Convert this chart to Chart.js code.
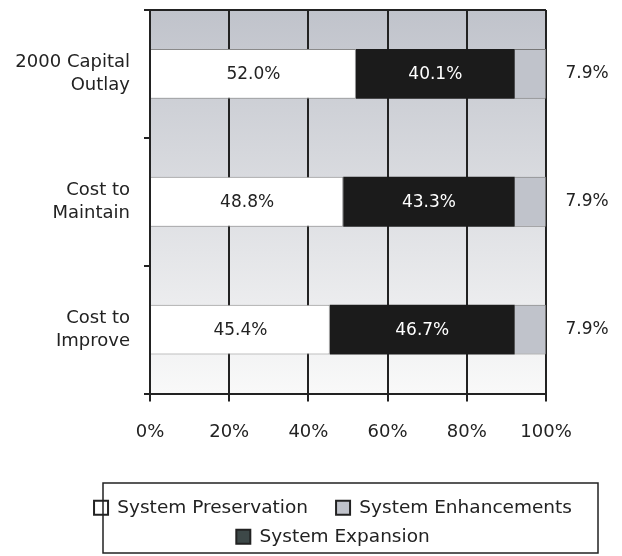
<!DOCTYPE html>
<html lang="en">
<head>
  <meta charset="UTF-8">
  <title>Capital Outlay Shares</title>
  <style>
    body {
      margin: 0;
      background: #fff;
    }
    #wrap {
      width: 622px;
      height: 556px;
    }
  </style>
</head>
<body>
  <div id="wrap"><canvas id="chart" width="622" height="556"></canvas></div>

  <script src="https://cdn.jsdelivr.net/npm/chart.js"></script>
  <script>
    const categories = [['2000 Capital', 'Outlay'], ['Cost to', 'Maintain'], ['Cost to', 'Improve']];
    const preservation = [52.0, 48.8, 45.4];
    const expansion = [40.1, 43.3, 46.7];
    const enhancements = [7.9, 7.9, 7.9];
    const xTicks = [0, 20, 40, 60, 80, 100];

    const FONT = '"DejaVu Sans", Verdana, sans-serif';
    const INK = '#222';

    // gradient fill behind the plot + the top frame line
    const plotFrame = {
      id: 'plotFrame',
      beforeDraw(chart) {
        const { ctx, chartArea: a } = chart;
        const g = ctx.createLinearGradient(0, a.top, 0, a.bottom);
        g.addColorStop(0, '#c0c3cb');
        g.addColorStop(1, '#f9f9f9');
        ctx.save();
        ctx.fillStyle = g;
        ctx.fillRect(a.left, a.top, a.right - a.left, a.bottom - a.top);
        ctx.restore();
      },
      beforeDatasetsDraw(chart) {
        const { ctx, chartArea: a } = chart;
        ctx.save();
        ctx.strokeStyle = INK;
        ctx.lineWidth = 2;
        ctx.beginPath();
        ctx.moveTo(a.left, a.top);
        ctx.lineTo(a.right, a.top);
        ctx.stroke();
        ctx.restore();
      }
    };

    // percent labels: centred in the segment, last series outside on the right
    const valueLabels = {
      id: 'valueLabels',
      afterDatasetsDraw(chart) {
        const { ctx, chartArea: a } = chart;
        ctx.save();
        ctx.font = '17px ' + FONT;
        ctx.textAlign = 'center';
        ctx.textBaseline = 'middle';
        chart.data.datasets.forEach((ds, i) => {
          chart.getDatasetMeta(i).data.forEach((bar, j) => {
            const txt = ds.data[j].toFixed(1) + '%';
            if (ds.outside) {
              ctx.fillStyle = INK;
              ctx.fillText(txt, a.right + 41, bar.y);
            } else {
              ctx.fillStyle = ds.labelColor;
              ctx.fillText(txt, (bar.x + bar.base) / 2, bar.y + 1);
            }
          });
        });
        ctx.restore();
      }
    };

    // legend sits a bit right of the plot centre, inside a framed box
    const legendBox = {
      id: 'legendBox',
      afterLayout(chart) {
        chart.legend.left = 44;
        chart.legend.right = 622;
      },
      afterDraw(chart) {
        const lg = chart.legend;
        if (!lg || !lg.legendHitBoxes.length) return;
        const ctx = chart.ctx;
        ctx.save();
        ctx.strokeStyle = INK;
        ctx.lineWidth = 1.5;
        ctx.strokeRect(103, lg.top - 5, 495, lg.bottom - lg.top + 2);
        ctx.restore();
      }
    };

    const swatch = ['#ffffff', '#3d4848', '#c0c3cb'];

    new Chart(document.getElementById('chart'), {
      type: 'bar',
      data: {
        labels: categories,
        datasets: [
          { label: 'System Preservation', data: preservation, backgroundColor: '#ffffff',
            borderColor: '#8a8a8a', borderWidth: 1, labelColor: INK },
          { label: 'System Expansion', data: expansion, backgroundColor: '#1b1b1b',
            borderWidth: 0, labelColor: '#ffffff' },
          { label: 'System Enhancements', data: enhancements, backgroundColor: '#c0c3cb',
            borderColor: '#777', borderWidth: 1, outside: true }
        ]
      },
      options: {
        indexAxis: 'y',
        responsive: false,
        animation: false,
        devicePixelRatio: 1,
        categoryPercentage: 1,
        barPercentage: 0.39,
        layout: { padding: { top: 10, right: 76, bottom: 0, left: 0 } },
        scales: {
          x: {
            stacked: true,
            min: 0,
            max: 100,
            afterBuildTicks(s) { s.ticks = xTicks.map(v => ({ value: v })); },
            afterFit(s) { s.height = 94.5; },
            grid: { color: INK, lineWidth: 2, tickLength: 8 },
            border: { color: INK, width: 2 },
            ticks: {
              color: INK,
              padding: 20,
              font: { family: FONT, size: 18 },
              callback: v => v + '%'
            }
          },
          y: {
            stacked: true,
            afterFit(s) {
              s.width = 150;
              s.paddingTop = 0;
              s.paddingBottom = 0;
            },
            grid: { drawOnChartArea: false, color: INK, lineWidth: 2, tickLength: 6, offset: true },
            border: { color: INK, width: 2 },
            ticks: {
              color: INK,
              padding: 14,
              font: { family: FONT, size: 18, lineHeight: 1.3 }
            }
          }
        },
        plugins: {
          tooltip: { enabled: false },
          legend: {
            position: 'bottom',
            labels: {
              color: INK,
              font: { family: FONT, size: 18.5 },
              boxWidth: 14,
              boxHeight: 14,
              padding: 10.5,
              sort: (a, b) => [0, 2, 1][a.datasetIndex] - [0, 2, 1][b.datasetIndex],
              generateLabels(chart) {
                return chart.data.datasets.map((ds, i) => ({
                  // trailing gap keeps the first row items apart
                  text: i === 0 ? ds.label + '   ' : ds.label,
                  fillStyle: swatch[i],
                  strokeStyle: INK,
                  lineWidth: 2,
                  fontColor: INK,
                  datasetIndex: i
                }));
              }
            }
          }
        }
      },
      plugins: [plotFrame, valueLabels, legendBox]
    });
  </script>
</body>
</html>
